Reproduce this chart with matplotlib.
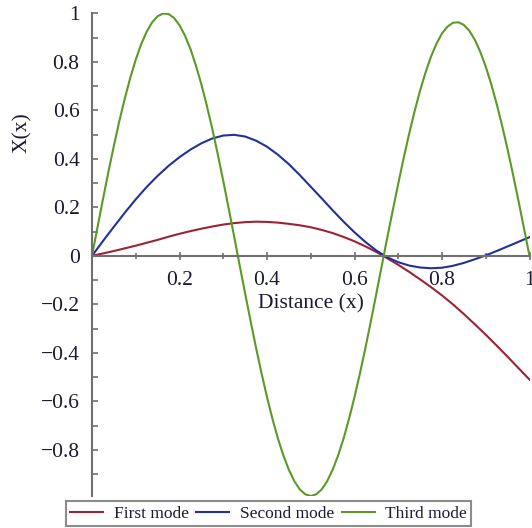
import numpy as np
import matplotlib
matplotlib.use("Agg")
import matplotlib.pyplot as plt
import matplotlib.ticker as mticker

# ── Data ────────────────────────────────────────────────────

x_mid = [0.0, 0.025, 0.05, 0.075, 0.1, 0.125, 0.15, 0.175, 0.2, 0.225,
         0.25, 0.275, 0.3, 0.325, 0.35, 0.375, 0.4, 0.425, 0.45, 0.475,
         0.5, 0.525, 0.55, 0.575, 0.6, 0.625, 0.65, 0.675, 0.7, 0.725,
         0.75, 0.775, 0.8, 0.825, 0.85, 0.875, 0.9, 0.925, 0.95, 0.975, 1.0]

first_mode = [0.0, 0.010, 0.020, 0.031, 0.042, 0.054, 0.066, 0.079, 0.091,
              0.102, 0.112, 0.121, 0.129, 0.135, 0.139, 0.141, 0.140,
              0.137, 0.132, 0.126, 0.118, 0.107, 0.094, 0.078, 0.060,
              0.039, 0.016, -0.010, -0.037, -0.066, -0.097, -0.129,
              -0.163, -0.200, -0.240, -0.282, -0.325, -0.370, -0.416,
              -0.463, -0.510]

second_mode = [0.0, 0.061, 0.120, 0.178, 0.233, 0.284, 0.330, 0.371, 0.407,
               0.438, 0.464, 0.484, 0.496, 0.499, 0.492, 0.475, 0.450,
               0.417, 0.378, 0.333, 0.285, 0.237, 0.188, 0.141, 0.097,
               0.057, 0.022, -0.006, -0.026, -0.040, -0.048, -0.051,
               -0.049, -0.041, -0.029, -0.014, 0.002, 0.020, 0.039,
               0.058, 0.077]

x_fine = [round(0.0125 * k, 4) for k in range(81)]

third_mode = [0.0, 0.117, 0.233, 0.346, 0.454, 0.556, 0.649, 0.734, 0.809,
              0.873, 0.924, 0.963, 0.988, 0.999, 0.997, 0.981, 0.951,
              0.908, 0.853, 0.785, 0.707, 0.619, 0.523, 0.419, 0.309,
              0.195, 0.079, -0.039, -0.155, -0.269, -0.379, -0.484,
              -0.582, -0.672, -0.753, -0.823, -0.882, -0.929, -0.963,
              -0.983, -0.990, -0.983, -0.963, -0.929, -0.882, -0.823,
              -0.753, -0.672, -0.582, -0.484, -0.379, -0.269, -0.155,
              -0.039, 0.076, 0.188, 0.298, 0.404, 0.504, 0.597, 0.682,
              0.757, 0.822, 0.875, 0.917, 0.945, 0.961, 0.963, 0.952,
              0.928, 0.891, 0.841, 0.780, 0.708, 0.626, 0.536, 0.438,
              0.334, 0.225, 0.113, 0.0]

x_ticks = [0.2, 0.4, 0.6, 0.8, 1.0]
y_ticks = [-0.8, -0.6, -0.4, -0.2, 0.0, 0.2, 0.4, 0.6, 0.8, 1.0]

labels = ["First mode", "Second mode", "Third mode"]
colors = ["#9b2335", "#22309a", "#5a9a25"]

# ── Plot ────────────────────────────────────────────────────

plt.rcParams["font.family"] = ["Liberation Serif", "DejaVu Serif"]
plt.rcParams["axes.unicode_minus"] = True

fig = plt.figure(figsize=(5.32, 5.28), dpi=100)
ax = fig.add_axes([92 / 532, 1 - 496 / 528, 437.5 / 532, 482.7 / 528])

ax.plot(x_mid, first_mode, color=colors[0], lw=1.5, label=labels[0])
ax.plot(x_mid, second_mode, color=colors[1], lw=1.5, label=labels[1])
ax.plot(x_fine, third_mode, color=colors[2], lw=1.5, label=labels[2])

ax.set_xlim(0, 1)
ax.set_ylim(-0.99, 1.0)

axis_grey = "#707070"
ax.spines["top"].set_visible(False)
ax.spines["right"].set_visible(False)
ax.spines["left"].set_position(("data", 0))
ax.spines["bottom"].set_position(("data", 0))
for s in ("left", "bottom"):
    ax.spines[s].set_color(axis_grey)
    ax.spines[s].set_linewidth(1.5)


def fmt(v, pos=None):
    s = f"{v:g}"
    return s.replace("-", "\u2212")


ax.xaxis.set_major_locator(mticker.FixedLocator(x_ticks))
ax.xaxis.set_minor_locator(mticker.MultipleLocator(0.1))
ax.yaxis.set_major_locator(mticker.FixedLocator(y_ticks))
ax.yaxis.set_minor_locator(mticker.MultipleLocator(0.1))
ax.xaxis.set_major_formatter(mticker.FuncFormatter(fmt))
ax.yaxis.set_major_formatter(mticker.FuncFormatter(fmt))

label_col = "#1a1a30"
ax.tick_params(axis="x", which="both", direction="inout", length=6,
               width=1.2, color=axis_grey, pad=8, labelsize=15.5,
               labelcolor=label_col)
ax.tick_params(axis="x", which="minor", length=5)
ax.tick_params(axis="y", which="both", direction="in", length=4,
               width=1.2, color=axis_grey, pad=9, labelsize=15.5,
               labelcolor=label_col)

ax.set_xlabel("Distance (x)", fontsize=15.5, color=label_col, labelpad=3)
ax.set_ylabel("X(x)", fontsize=15.5, color=label_col)
ax.yaxis.set_label_coords(-0.137, 0.752)

leg = fig.legend(loc="lower center", bbox_to_anchor=(0.505, 0.0), ncol=3,
                 fontsize=12.5, frameon=True, fancybox=False,
                 handlelength=1.9, handletextpad=0.6, columnspacing=0.45,
                 borderpad=0.25, borderaxespad=0.1)
leg.get_frame().set_edgecolor(axis_grey)
leg.get_frame().set_linewidth(1.5)
for t in leg.get_texts():
    t.set_color(label_col)

fig.savefig("out.png", dpi=100)
